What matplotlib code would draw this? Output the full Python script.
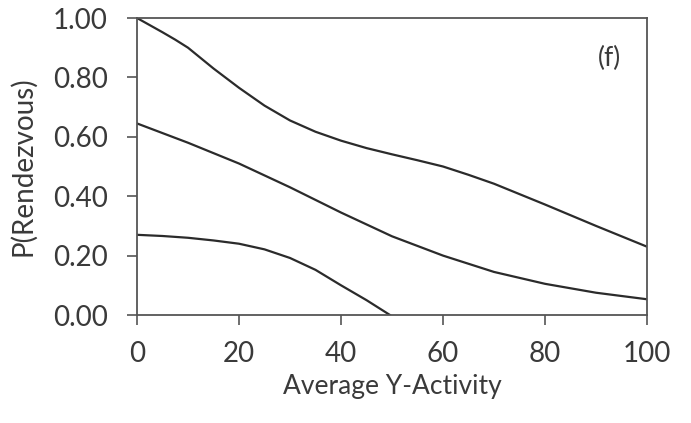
import matplotlib
matplotlib.use("Agg")
import matplotlib.pyplot as plt
import numpy as np

# curves
x_upper = [0, 2.5, 5, 7.5, 10, 15, 20, 25, 30, 35, 40, 45, 50, 55, 60, 65, 70, 75, 80, 85, 90, 95, 100]
y_upper = [1.00, 0.976, 0.952, 0.927, 0.90, 0.83, 0.765, 0.705, 0.655, 0.617, 0.587, 0.562, 0.541, 0.521,
           0.50, 0.472, 0.442, 0.407, 0.372, 0.336, 0.300, 0.265, 0.23]

x_middle = [0, 10, 20, 30, 40, 50, 60, 70, 80, 90, 100]
y_middle = [0.645, 0.58, 0.51, 0.43, 0.345, 0.265, 0.20, 0.145, 0.105, 0.075, 0.053]

x_lower = [0, 5, 10, 15, 20, 25, 30, 35, 40, 45, 49.6]
y_lower = [0.27, 0.266, 0.26, 0.251, 0.24, 0.221, 0.192, 0.152, 0.10, 0.05, 0.0]

x_ticks = [0, 20, 40, 60, 80, 100]
y_ticks = [0.0, 0.2, 0.4, 0.6, 0.8, 1.0]

plt.rcParams["font.family"] = ["Lato", "DejaVu Sans"]
text_color = "#3a3a3a"

fig = plt.figure(figsize=(6.91, 4.23), dpi=100)
ax = fig.add_axes([137 / 691, 1 - 315 / 423, 510 / 691, 297 / 423])

line_kw = dict(color="#2b2b2b", linewidth=1.6)
ax.plot(x_upper, y_upper, **line_kw)
ax.plot(x_middle, y_middle, **line_kw)
ax.plot(x_lower, y_lower, **line_kw)

ax.set_xlim(0, 100)
ax.set_ylim(0, 1)
ax.set_xticks(x_ticks)
ax.set_yticks(y_ticks)
ax.set_yticklabels([f"{v:.2f}" for v in y_ticks])

for s in ax.spines.values():
    s.set_color("#555555")
    s.set_linewidth(1.3)

ax.tick_params(axis="both", direction="out", length=7, width=1.2, color="#555555",
               labelsize=20, labelcolor=text_color)
ax.tick_params(axis="x", pad=12)
ax.tick_params(axis="y", pad=14)

ax.set_xlabel("Average Y-Activity", fontsize=19, color=text_color, labelpad=5)
ax.set_ylabel("P(Rendezvous)", fontsize=20, color=text_color, labelpad=12)

ax.text(92.7, 0.865, "(f)", fontsize=19, color=text_color, ha="center", va="center")

fig.savefig("out.png", dpi=100, facecolor="white")
